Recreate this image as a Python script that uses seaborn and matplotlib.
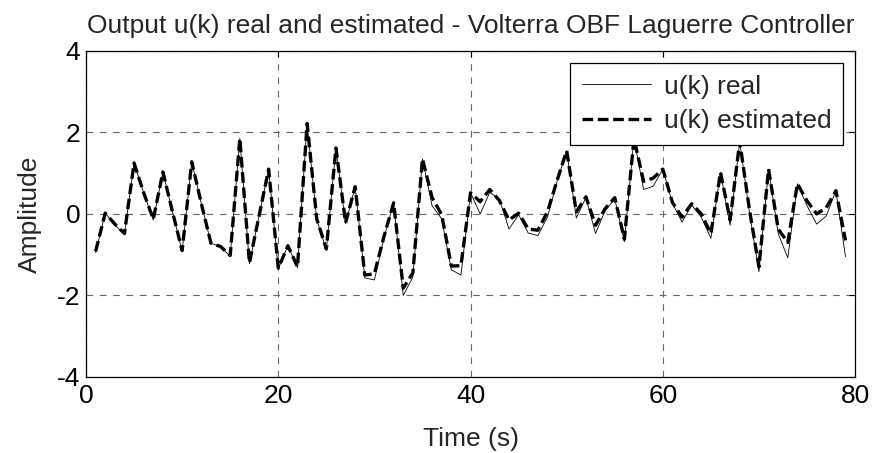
import numpy as np
import pandas as pd
import matplotlib
matplotlib.use("Agg")
import matplotlib.pyplot as plt
import seaborn as sns

# Sample index (s)
time_s = list(range(1, 80))

# u(k) estimated (thick dashed)
u_est = [
    -0.92, 0.02, -0.25, -0.48, 1.25, 0.52, -0.13, 1.03, 0.05, -0.90,
    1.28, 0.25, -0.72, -0.80, -1.02, 1.85, -1.20, -0.05, 1.10, -1.33,
    -0.78, -1.30, 2.22, -0.12, -0.86, 1.62, -0.22, 0.67, -1.50, -1.47,
    -0.55, 0.27, -1.82, -1.45, 1.35, 0.40, -0.02, -1.28, -1.27, 0.52,
    0.30, 0.60, 0.33, -0.15, 0.02, -0.37, -0.40, 0.05, 0.82, 1.55,
    0.05, 0.42, -0.28, 0.13, 0.40, -0.62, 1.85, 0.80, 0.88, 1.10,
    0.28, -0.08, 0.25, 0.00, -0.48, 1.02, -0.15, 1.78, 0.12, -1.30,
    1.10, -0.37, -0.70, 0.74, 0.32, 0.00, 0.15, 0.57, -0.65,
]

# u(k) real (thin solid)
u_real = [
    -0.95, 0.02, -0.27, -0.50, 1.25, 0.52, -0.15, 1.03, 0.05, -0.92,
    1.28, 0.25, -0.72, -0.80, -1.04, 1.85, -1.22, -0.05, 1.10, -1.35,
    -0.78, -1.32, 2.22, -0.14, -0.88, 1.62, -0.24, 0.67, -1.57, -1.62,
    -0.58, 0.27, -2.00, -1.55, 1.35, 0.20, -0.12, -1.37, -1.50, 0.52,
    0.00, 0.53, 0.36, -0.37, -0.02, -0.47, -0.53, -0.08, 0.80, 1.55,
    -0.10, 0.40, -0.48, 0.08, 0.37, -0.68, 1.85, 0.60, 0.68, 1.10,
    0.26, -0.20, 0.22, -0.08, -0.60, 1.02, -0.28, 1.78, 0.05, -1.42,
    1.10, -0.48, -1.08, 0.74, 0.20, -0.25, -0.05, 0.57, -1.05,
]

df = pd.DataFrame({"t": time_s, "real": u_real, "est": u_est})

sns.set_style("white")
plt.rcParams['font.family'] = ['Liberation Sans', 'DejaVu Sans']
plt.rcParams['axes.unicode_minus'] = False
FS = 19

fig = plt.figure(figsize=(8.82, 4.53), dpi=100)
ax = fig.add_axes([0.0975, 0.168, 0.872, 0.7195])

sns.lineplot(data=df, x="t", y="real", ax=ax, color="black", linewidth=0.6,
             label="u(k) real")
sns.lineplot(data=df, x="t", y="est", ax=ax, color="black", linewidth=2.4,
             dashes=False, label="u(k) estimated")
ax.lines[1].set_dashes((3.2, 1.4))

ax.set_xlim(0, 80)
ax.set_ylim(-4, 4)
ax.set_xticks([0, 20, 40, 60, 80])
ax.set_yticks([-4, -2, 0, 2, 4])

ax.grid(True, color="0.4", linestyle=(0, (6, 6)), linewidth=0.8)
for s in ax.spines.values():
    s.set_color("black")
    s.set_linewidth(0.9)

ax.tick_params(direction="in", length=4, width=0.8, top=True, right=True,
               labelsize=FS, colors="black")
ax.tick_params(axis="x", pad=5)
ax.tick_params(axis="y", pad=4)

ax.set_title("Output u(k) real and estimated - Volterra OBF Laguerre Controller",
             fontsize=FS, pad=13)
ax.set_xlabel("Time (s)", fontsize=FS, labelpad=14)
ax.set_ylabel("Amplitude", fontsize=FS, labelpad=11)

leg = ax.legend(loc="upper right", fontsize=FS, frameon=True, fancybox=False,
                borderaxespad=0.45, handlelength=2.6, handletextpad=0.5,
                borderpad=0.45, labelspacing=0.4)
leg.get_frame().set_edgecolor("black")
leg.get_frame().set_linewidth(0.9)
leg.get_frame().set_alpha(1)

fig.savefig("out.png", dpi=100)
plt.close(fig)
